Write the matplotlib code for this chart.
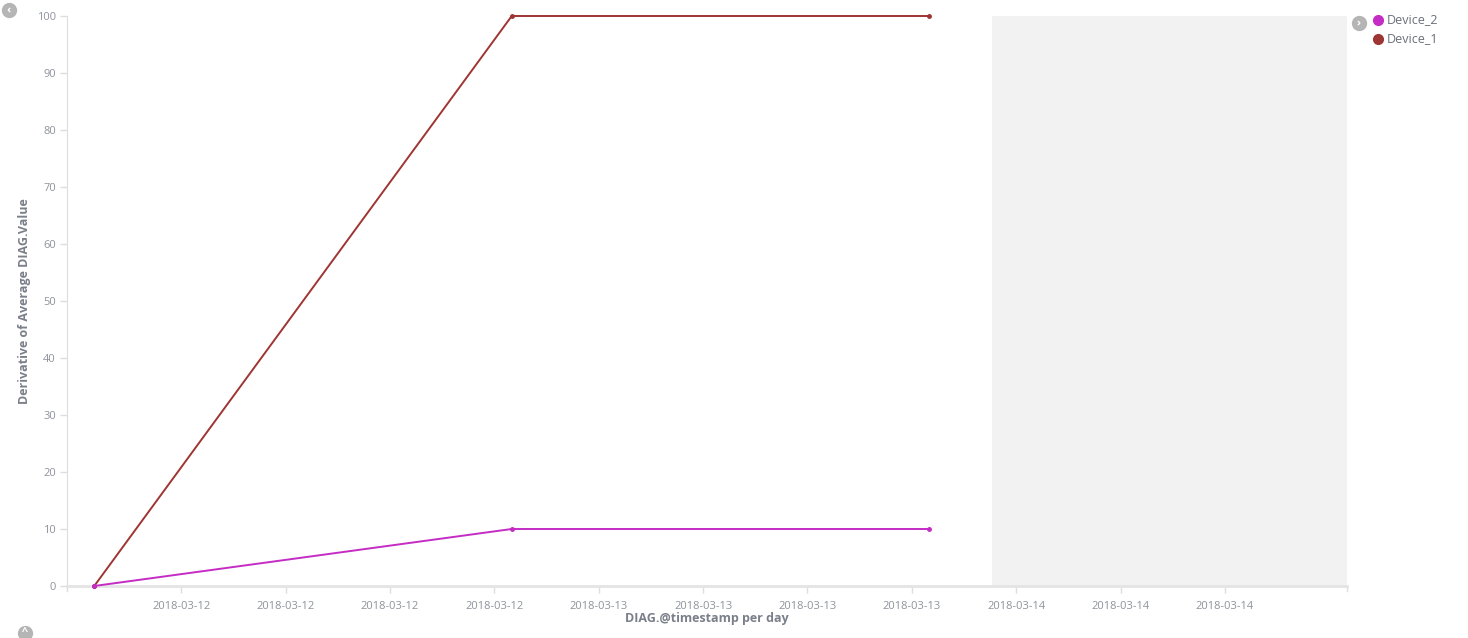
import matplotlib
matplotlib.use("Agg")
import matplotlib.pyplot as plt
import datetime as dt

plt.rcParams['font.family'] = ['Open Sans', 'DejaVu Sans']

# Data
timestamps = ["2018-03-11 19:00", "2018-03-12 19:00", "2018-03-13 19:00"]
device_1 = [0, 100, 100]
device_2 = [0, 10, 10]
series_names = ["Device_2", "Device_1"]
series_colors = {"Device_1": "#9E3533", "Device_2": "#C42CC4"}
tick_times = ["2018-03-12 00:00", "2018-03-12 06:00", "2018-03-12 12:00", "2018-03-12 18:00",
              "2018-03-13 00:00", "2018-03-13 06:00", "2018-03-13 12:00", "2018-03-13 18:00",
              "2018-03-14 00:00", "2018-03-14 06:00", "2018-03-14 12:00"]
y_ticks = list(range(0, 101, 10))
x_start, x_end = "2018-03-11 17:26", "2018-03-14 19:01"
shade_start = "2018-03-13 22:36"

to_dt = lambda s: dt.datetime.strptime(s, "%Y-%m-%d %H:%M")
xs = [to_dt(t) for t in timestamps]

fig = plt.figure(figsize=(14.68, 6.38), dpi=100)
ax = fig.add_axes([67/1468, 52/638, 1280/1468, 570/638])

ax.axvspan(to_dt(shade_start), to_dt(x_end), color="#F2F2F2", zorder=0, lw=0)

ax.plot(xs, device_1, color=series_colors["Device_1"], lw=1.4, marker="o", ms=2.5, zorder=3, clip_on=False)
ax.plot(xs, device_2, color=series_colors["Device_2"], lw=1.4, marker="o", ms=2.5, zorder=3, clip_on=False)

ax.set_xlim(to_dt(x_start), to_dt(x_end))
ax.set_ylim(0, 100)
ax.set_yticks(y_ticks)
ax.set_xticks([to_dt(t) for t in tick_times])
ax.set_xticklabels([t[:10] for t in tick_times])

for s in ["top", "right"]:
    ax.spines[s].set_visible(False)
ax.spines["left"].set_color("#DDDDDD")
ax.spines["bottom"].set_color("#E4E4E4")
ax.spines["bottom"].set_linewidth(2)
ax.tick_params(axis="both", colors="#DDDDDD", labelcolor="#8E939C", labelsize=8, length=5, width=1)
ax.tick_params(axis="y", pad=3)
ax.tick_params(axis="x", pad=6)

# end ticks on x axis
for xv in [0, 1]:
    ax.plot([xv, xv], [0, -0.009], transform=ax.transAxes, color="#DDDDDD", lw=1, clip_on=False)

ax.set_xlabel("DIAG.@timestamp per day", fontsize=9, fontweight="bold", color="#7A7F89", labelpad=0)
ax.set_ylabel("Derivative of Average DIAG.Value", fontsize=9, fontweight="bold", color="#7A7F89")
ax.yaxis.set_label_coords(-0.028, 0.5)

# legend
W, H = 1468, 638
for i, name in enumerate(series_names):
    y = 1 - (20 + 19 * i) / H
    fig.add_artist(plt.Line2D([1378 / W], [y], marker="o", ms=7, color=series_colors[name], transform=fig.transFigure))
    fig.text(1387 / W, y, name, fontsize=9, color="#6A6F79", va="center", ha="left")

# icons
def icon(x, y, ch):
    fig.add_artist(plt.Line2D([x / W], [1 - y / H], marker="o", ms=10, color="#B5B5B5", transform=fig.transFigure))
    fig.text(x / W, 1 - y / H, ch, fontsize=8, fontweight="bold", color="white", ha="center", va="center")

icon(9, 10, "‹")
icon(1359, 23, "›")
icon(25, 633, "^")

fig.savefig("out.png", dpi=100)
